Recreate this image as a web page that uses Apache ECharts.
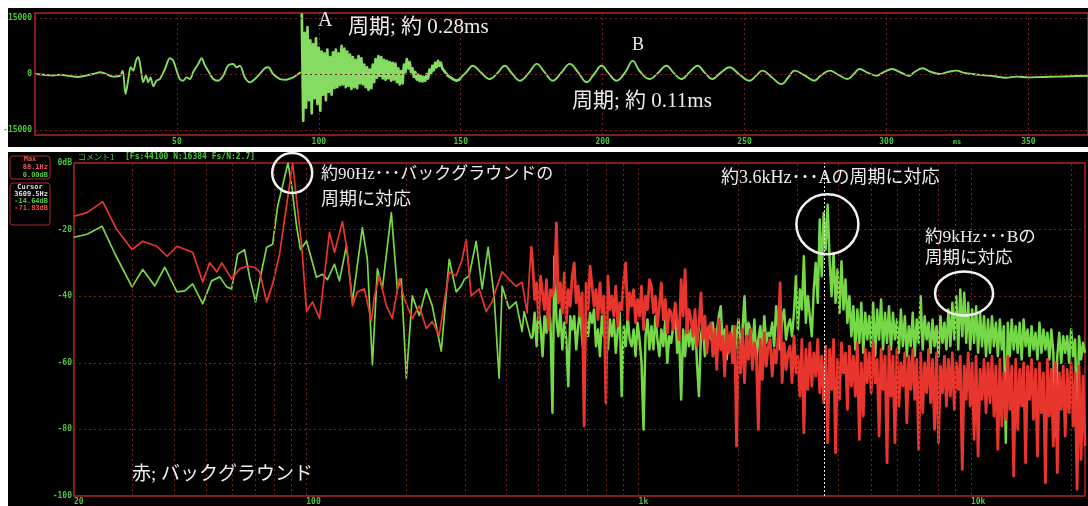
<!DOCTYPE html>
<html>
<head>
<meta charset="utf-8">
<script src="https://cdn.jsdelivr.net/npm/echarts@6/dist/echarts.min.js"></script>
<style>
  html, body { margin: 0; padding: 0; background: #ffffff; }
  #chart { width: 1088px; height: 506px; }
</style>
</head>
<body>
<div id="chart"></div>
<script>
// ---------- Waveform (top panel): amplitude vs time ----------
// slow pre-onset motion, [ms, amplitude]
const waveOnset = [
  [0,0],[3,-200],[6,-400],[9,-200],[12,-500],[15,-800],[18,-400],[21,100],[23,450],[25,0],
  [27.6,-700],[30,-450],[30.9,900],[31.9,-5360],[32.9,-1340],[33.7,1800],[34.6,890],[35.6,3570],
  [36.4,4460],[37.2,1800],[38.1,-2230],[39.1,-450],[39.9,-2230],[40.7,-890],[41.7,-3300],
  [42.8,-1790],[44,-1340],[45.8,1340],[47.5,4200],[48.7,3570],[49.9,890],[51,-1340],[52.2,-1790],
  [53.4,-890],[54.6,-1340],[55.7,450],[57.5,2680],[58.7,4200],[59.9,2230],[61,890],[62.8,-1340],
  [64.5,-1790],[66.3,-450],[68,2230],[69.8,2680],[71,1800],[72.2,2230],[73.9,-890],[75.7,-2230],
  [77.5,-1340],[79.2,0],[81,1520],[82.2,1800],[83.9,0],[86.3,-1340],[88.6,-1520],[91,-890],
  [92.7,0],[93.6,500]
];
// dense burst after the attack, sampled every 0.5 ms from 94 ms
const burstStartMs = 94;
const burstStepMs = 0.5;
const waveBurst = [
  16200,-12500,11000,-9000,12500,-7000,9000,-10500,8000,-6500,
  9500,-8000,7000,-9800,6000,-5500,5500,-7000,6500,-4800,
  4500,-5500,5800,-3800,6500,-3500,5500,-3000,7500,-2800,
  6800,-3500,6000,-3200,5200,-4000,4500,-3500,3800,-3800,
  4800,-2500,4200,-2800,2500,-3500,1800,-4200,1200,-3800,
  2500,-2200,4000,-1000,4800,-500,4500,-1200,3800,-1500,
  3500,-1200,3200,-1800,3000,-1500,2800,-2200,1500,-2800,
  800,-2500,2500,500,4000,1500,3200,500,1500,-800,
  500,-1500,-200,-1900,-500,-2000,-800,-1800,0,-1200,
  1200,0,2200,1000,3000,1800,3500,2200,3000,1500,
  2000,500,800,-500,0,-1000,-700,-1500,-1200,-1800,
  -1300,-1500,-1000
];
// decaying periodic tail, [ms, amplitude]
const waveTail = [
  [150,-1000],
  [152,500],[154.2,2200],[157,500],[160.2,-1340],[163,300],[165.5,2200],[168,200],[170.8,-1790],
  [174,300],[176.8,2700],[179.5,500],[182.4,-1790],[185.5,400],[188.4,2700],[191.5,300],[194.4,-2200],
  [197,0],[199.6,2200],[202,300],[204.9,-1790],[208,500],[210.6,3500],[213,800],[216.5,-1340],
  [219.5,300],[222.5,2200],[225,300],[227.8,-1340],[230.5,400],[233.5,2200],[236,300],[238.7,-1340],
  [241.5,300],[244.7,1800],[248,0],[251.8,-1790],[254,-500],[256.3,900],[259.5,-800],[263,-2700],
  [265.5,-800],[267.6,900],[271,-300],[274.6,-1790],[277,-300],[280,900],[283,-200],[286.3,-1340],
  [288.5,0],[290.5,1340],[293.5,300],[296.5,-450],[299,500],[302,1340],[305,400],[308,-450],
  [310,600],[312.7,1520],[315.5,600],[318.7,0],[321.5,500],[324.6,900],[327.5,300],[330.3,0],
  [334,-300],[338,-600],[342,-1000],[346,-700],[350,-900],[355,-800],[360,-700],[365,-600],[371,-450]
];
const waveTicksY = [15000, 0, -15000];
const waveTimeMax = 371;

// ---------- Spectrum (bottom panel): level in dB vs frequency ----------
// low band, [Hz, dB]
const greenLow = [
  [20,-22.3],[21.9,-21.4],[24.3,-19],[26.6,-27.4],[29.9,-37.2],[32.2,-32],[35.0,-36.9],[37.5,-31.3],
  [40.8,-38.7],[43.1,-38.4],[45.5,-36.3],[48.8,-42.3],[51.9,-35.4],[54.9,-34.2],[57.6,-37.2],
  [59.6,-37.8],[62.2,-27.4],[65.2,-26],[67.5,-34.2],[70.4,-41.7],[73.4,-32.4],[76.0,-25.3],
  [79.2,-24.4],[82.0,-13],[88.1,0],[90.3,-6.5],[93.5,-19],[96.1,-26],[100.2,-23.4],[107.3,-34.3],
  [111.9,-33.4],[115.8,-35],[121.6,-30.4],[125.8,-35.4],[132.1,-24.9],[137.7,-41.7],[147.5,-19.4],
  [152.7,-29],[158.1,-60.6],[163.7,-31.8],[169.4,-37.8],[180.3,-14.9],[187.9,-37.8],[193.2,-34.8],
  [200,-64.6],[208.5,-39.9],[218.8,-45.8],[229.7,-37.8],[239.4,-42.9],[254.8,-56.5],[269.3,-28.9],
  [282.6,-38.7],[292.5,-36.9],[298.7,-35],[309.2,-33.9],[324.5,-23.5],[338.3,-37.8],[352.6,-25.3],
  [367.5,-40],[380.5,-64.6],[388.5,-37],[407.8,-43.7],[428.0,-41.7],[446.1,-50.6],[452.3,-44.6],
  [474.8,-52.7]
];
const redLow = [
  [20,-16],[21.9,-14.9],[24.4,-11.6],[26.9,-20],[29.9,-26],[32.2,-23.5],[35.5,-25],[38.1,-28],
  [40.8,-25],[45.5,-26.8],[48.8,-35.7],[51.2,-30],[53.8,-32.7],[55.7,-30],[59.6,-34.8],[63.0,-31.8],
  [66.2,-31],[69.9,-31.3],[72.4,-32.7],[76.0,-41.7],[79.2,-36.3],[83.1,-27.4],[87.3,-12.5],[91.0,0],
  [94.2,-14],[96.8,-24.4],[100.2,-44.6],[104.4,-41.7],[109.6,-46.7],[117.4,-20.8],[121.6,-26.8],
  [128.5,-17.6],[133.0,-26.8],[137.7,-42.9],[142.5,-38.7],[149.6,-37.8],[157.0,-47.6],[160.3,-40],
  [165.9,-33.9],[174.2,-42.9],[181.5,-46.7],[190.6,-34.8],[197.3,-40.8],[208.5,-46.7],[218.8,-42.9],
  [229.7,-49.7],[239.4,-47.6],[251.3,-51.8],[260.1,-41.7],[269.3,-32.7],[282.6,-33.9],[294.6,-28.9],
  [302.8,-22.9],[313.5,-39.9],[331.3,-37.8],[347.8,-44.6],[362.5,-41.7],[372.7,-37.8],[388.5,-32.7],
  [407.8,-35],[428.0,-37],[446.1,-35.8],[461.8,-45],[474.8,-25]
];
// high band: dB values on a log-spaced frequency grid from 480 Hz to 22050 Hz
const highStartHz = 480;
const highEndHz = 22050;
const greenHigh = [
  -52,-45,-55,-44,-49,-58,-46,-51,-43,-48,
  -75,-28,-47,-52,-44,-56,-48,-53,-67,-46,
  -50,-46,-56,-49,-44,-53,-58,-47,-52,-45,
  -48,-44,-55,-50,-58,-46,-52,-49,-56,-47,
  -52,-47,-57,-50,-45,-70,-49,-55,-46,-53,
  -55,-50,-58,-48,-53,-60,-80,-52,-47,-56,
  -49,-56,-46,-53,-58,-50,-55,-47,-60,-52,
  -54,-49,-43,-57,-52,-71,-50,-58,-48,-55,
  -50,-56,-47,-60,-70,-52,-48,-58,-53,-49,
  -53,-48,-57,-51,-46,-43,-55,-50,-59,-52,
  -55,-49,-58,-52,-47,-56,-50,-40,-54,-48,
  -50,-56,-47,-59,-53,-49,-57,-46,-54,-51,
  -52,-48,-55,-43,-50,-56,-47,-44,-53,-49,
  -47,-52,-45,-34,-50,-38,-44,-28,-48,-40,
  -46,-52,-38,-30,-42,-17,-34,-15,-26,-12.5,
  -29,-40,-27,-42,-32,-45,-29.5,-44,-35,-48,
  -40,-52,-43,-56,-44,-54,-42,-57,-45,-53,
  -46,-55,-42,-58,-44,-53,-41,-56,-45,-54,
  -43,-56,-45,-53,-47,-57,-44,-55,-46,-58,
  -49,-55,-45,-58,-47,-54,-40,-56,-46,-53,
  -48,-57,-47,-55,-49,-58,-46,-54,-48,-56,
  -44,-55,-42,-53,-40,-56,-38,-52,-39,-54,
  -42,-56,-44,-54,-43,-57,-45,-55,-46,-58,
  -47,-57,-46,-55,-48,-58,-47,-56,-49,-84,
  -48,-58,-47,-56,-49,-57,-48,-59,-47,-55,
  -50,-58,-49,-56,-51,-59,-48,-57,-50,-56,
  -51,-59,-50,-57,-82,-58,-51,-60,-52,-57,
  -52,-60,-50,-58,-53,-80,-52,-59,-54,-57
];
const redHigh = [
  -30,-41,-36,-47,-34,-39,-44,-35,-50,-38,
  -40,-37,-18,-42,-36,-45,-33,-48,-38,-43,
  -34,-30,-42,-37,-46,-39,-79,-36,-44,-31,
  -31,-43,-38,-47,-36,-45,-40,-72,-34,-44,
  -40,-46,-37,-49,-42,-44,-35,-30,-47,-39,
  -43,-38,-48,-41,-46,-37,-50,-40,-44,-35,
  -37,-45,-40,-49,-43,-36,-47,-41,-51,-44,
  -45,-50,-42,-48,-53,-35,-46,-32,-51,-44,
  -47,-52,-44,-55,-49,-39,-53,-46,-57,-50,
  -48,-58,-50,-62,-47,-56,-52,-64,-49,-57,
  -51,-60,-49,-85,-53,-63,-50,-66,-52,-59,
  -50,-62,-54,-58,-80,-53,-65,-51,-61,-55,
  -53,-64,-56,-60,-52,-36,-66,-54,-62,-57,
  -55,-66,-52,-63,-58,-70,-53,-81,-56,-68,
  -54,-67,-57,-64,-53,-69,-58,-72,-55,-84,
  -56,-68,-53,-87,-59,-71,-54,-63,-57,-74,
  -55,-67,-58,-70,-54,-83,-60,-76,-56,-66,
  -57,-69,-54,-66,-59,-82,-56,-68,-58,-90,
  -55,-70,-58,-84,-56,-73,-60,-67,-57,-78,
  -58,-68,-56,-71,-59,-86,-57,-75,-60,-69,
  -56,-72,-59,-80,-57,-84,-61,-69,-58,-73,
  -59,-70,-57,-74,-60,-68,-58,-92,-61,-71,
  -57,-73,-60,-83,-58,-88,-62,-71,-59,-75,
  -60,-72,-58,-76,-61,-86,-59,-79,-63,-77,
  -58,-74,-61,-94,-59,-80,-62,-73,-60,-90,
  -61,-71,-59,-77,-62,-88,-60,-75,-63,-96,
  -59,-76,-62,-85,-60,-93,-63,-74,-61,-82,
  -62,-75,-60,-79,-63,-98,-61,-89,-64,-85
];
const freqLabels = { 20: '20', 100: '100', 1000: '1k', 10000: '10k' };
const minorGridHz = [30,40,50,60,70,80,90,200,300,400,500,600,700,800,900,
                     2000,3000,4000,5000,6000,7000,8000,9000,20000];
const cursorHz = 3609.5;

// ---------- styling ----------
const LABEL_GREEN = '#52c444';
const GRID_DOT = '#74201a';
const FRAME_RED = '#b02a20';
const WAVE_GREEN = '#86dc62';
const SPEC_GREEN = '#76d846';
const SPEC_RED = '#e8352e';
const NOTE_WHITE = '#ececec';
const LABEL_FONT = 'DejaVu Sans Mono';
const NOTE_FONT = "'Liberation Serif', 'Noto Sans CJK JP'";

// build series data
const burstData = waveBurst.map((v, i) => [burstStartMs + i * burstStepMs, v]);
function logGrid(values) {
  const n = values.length;
  return values.map((v, i) => [highStartHz * Math.pow(highEndHz / highStartHz, i / (n - 1)), v]);
}
// the high band starts from the last low-band point so the trace stays continuous
const greenHighData = [greenLow[greenLow.length - 1]].concat(logGrid(greenHigh));
const redHighData = [redLow[redLow.length - 1]].concat(logGrid(redHigh));

const chart = echarts.init(document.getElementById('chart'), null, { renderer: 'canvas' });

const smallLabel = { color: LABEL_GREEN, fontSize: 8, fontWeight: 'bold', fontFamily: LABEL_FONT };

function trace(name, xi, data, color, width, z, smooth) {
  return { name: name, type: 'line', xAxisIndex: xi, yAxisIndex: xi, data: data, sampling: 'none',
    smooth: smooth || false, showSymbol: false, symbol: 'none', z: z, silent: true,
    lineStyle: { color: color, width: width, join: 'round' } };
}

const option = {
  animation: false,
  backgroundColor: 'transparent',
  grid: [
    { left: 35, top: 13, width: 1053, height: 122, show: true, borderColor: FRAME_RED, borderWidth: 1.5, backgroundColor: 'transparent' },
    { left: 74, top: 163, width: 1014, height: 337, show: true, borderColor: FRAME_RED, borderWidth: 1.5, backgroundColor: 'transparent' }
  ],
  xAxis: [
    {
      type: 'value', gridIndex: 0, min: 0, max: waveTimeMax, interval: 50,
      axisLine: { show: false }, axisTick: { show: false },
      splitLine: { show: true, lineStyle: { color: GRID_DOT, type: [2, 3], width: 1 } },
      axisLabel: Object.assign({}, smallLabel, { margin: 3, showMaxLabel: false,
        formatter: v => (v === 0 || v > 360) ? '' : String(v) })
    },
    {
      type: 'log', logBase: 10, gridIndex: 1, min: 20, max: highEndHz,
      axisLine: { show: false }, axisTick: { show: false },
      splitLine: { show: true, lineStyle: { color: GRID_DOT, type: [2, 3], width: 1 } },
      axisLabel: Object.assign({}, smallLabel, { margin: 2, align: 'left',
        formatter: v => freqLabels[Math.round(v)] || '' })
    }
  ],
  yAxis: [
    {
      type: 'value', gridIndex: 0, min: -16300, max: 16300,
      axisLine: { show: false }, axisTick: { show: false },
      splitLine: { show: false }, axisLabel: { show: false }
    },
    {
      type: 'value', gridIndex: 1, min: -100, max: 0, interval: 20,
      axisLine: { show: false }, axisTick: { show: false },
      splitLine: { show: true, lineStyle: { color: GRID_DOT, type: [2, 3], width: 1 } },
      axisLabel: Object.assign({}, smallLabel, { margin: 2, formatter: v => v === 0 ? '0dB' : String(v) })
    }
  ],
  series: [
    // amplitude grid lines of the waveform
    {
      type: 'line', xAxisIndex: 0, yAxisIndex: 0, data: [], z: 1, silent: true,
      markLine: { silent: true, symbol: ['none', 'none'], label: { show: false },
        lineStyle: { color: GRID_DOT, type: [2, 3], width: 1 },
        data: waveTicksY.map(v => ({ yAxis: v })) }
    },
    // 1-2-...-9 frequency grid lines of the spectrum
    {
      type: 'line', xAxisIndex: 1, yAxisIndex: 1, data: [], z: 1, silent: true,
      markLine: { silent: true, symbol: ['none', 'none'], label: { show: false },
        lineStyle: { color: GRID_DOT, type: [2, 3], width: 1 },
        data: minorGridHz.map(f => ({ xAxis: f })) }
    },
    trace('waveOnset', 0, waveOnset, WAVE_GREEN, 1.9, 2, 0.3),
    trace('waveBurst', 0, burstData, WAVE_GREEN, 2.7, 2),
    trace('waveTail', 0, waveTail, WAVE_GREEN, 1.9, 2, 0.4),
    trace('signalLow', 1, greenLow, SPEC_GREEN, 1.7, 2),
    trace('signalHigh', 1, greenHighData, SPEC_GREEN, 2.5, 2),
    trace('backgroundLow', 1, redLow, SPEC_RED, 1.7, 3),
    trace('backgroundHigh', 1, redHighData, SPEC_RED, 2.8, 3),
    // cursor
    {
      type: 'line', xAxisIndex: 1, yAxisIndex: 1, data: [], z: 5, silent: true,
      markLine: { silent: true, symbol: ['none', 'none'], label: { show: false },
        lineStyle: { color: '#e6e6e6', type: [2, 2], width: 1 },
        data: [{ xAxis: cursorHz }] }
    }
  ]
};
chart.setOption(option);

// ---------- panels, readouts and notes ----------
const toWave = (t, v) => chart.convertToPixel({ xAxisIndex: 0, yAxisIndex: 0 }, [t, v]);
const toSpec = (f, db) => chart.convertToPixel({ xAxisIndex: 1, yAxisIndex: 1 }, [f, db]);

function txt(x, y, text, opts) {
  return Object.assign({ type: 'text', x: x, y: y, z: 100, silent: true,
    style: Object.assign({ text: text, fill: NOTE_WHITE, fontSize: 17, fontFamily: NOTE_FONT,
      align: 'left', verticalAlign: 'middle' }, opts || {}) });
}
function small(x, y, text, color, align) {
  return txt(x, y, text, { fill: color, fontSize: 7, fontWeight: 'bold', fontFamily: LABEL_FONT, align: align || 'right' });
}

const elements = [
  { type: 'rect', z: -10, silent: true, shape: { x: 8, y: 8, width: 1080, height: 139 }, style: { fill: '#000' } },
  { type: 'rect', z: -10, silent: true, shape: { x: 8, y: 152, width: 1080, height: 354 }, style: { fill: '#000' } }
];

// waveform amplitude labels
waveTicksY.forEach(v => {
  const p = toWave(0, v);
  elements.push(txt(p[0] - 3, p[1], String(v), { fill: LABEL_GREEN, fontSize: 8, fontWeight: 'bold', fontFamily: LABEL_FONT, align: 'right' }));
});
elements.push(txt(957, 142, 'ms', { fill: LABEL_GREEN, fontSize: 7, fontWeight: 'bold', fontFamily: LABEL_FONT, align: 'center' }));

// spectrum header
elements.push(txt(78, 157, 'コメント1', { fill: LABEL_GREEN, fontSize: 8, fontFamily: "'Noto Sans CJK JP'" }));
elements.push(txt(125, 157, '[Fs:44100 N:16384 Fs/N:2.7]', { fill: LABEL_GREEN, fontSize: 8, fontWeight: 'bold', fontFamily: LABEL_FONT }));

// readout boxes
elements.push({ type: 'rect', z: 99, silent: true, shape: { x: 10, y: 156, width: 40, height: 23, r: 3 },
  style: { fill: 'none', stroke: FRAME_RED, lineWidth: 1 } });
elements.push(small(30, 159, 'Max', '#e85050', 'center'));
elements.push(small(48, 167, '88.1Hz', '#e85a5a'));
elements.push(small(48, 175, '0.00dB', LABEL_GREEN));
elements.push({ type: 'rect', z: 99, silent: true, shape: { x: 10, y: 183, width: 40, height: 42, r: 3 },
  style: { fill: 'none', stroke: FRAME_RED, lineWidth: 1 } });
elements.push(small(30, 187, 'Cursor', '#e0e0e0', 'center'));
elements.push(small(48, 194, cursorHz.toFixed(1) + 'Hz', '#e0e0e0'));
elements.push(small(48, 201, '-14.64dB', LABEL_GREEN));
elements.push(small(48, 208, '-71.83dB', '#e84a4a'));

// notes on the waveform
elements.push(txt(318, 21, 'A', { fontSize: 20 }));
elements.push(txt(348, 27, '周期; 約 0.28ms', { fontSize: 21 }));
elements.push(txt(632, 45, 'B', { fontSize: 18 }));
elements.push(txt(572, 101, '周期; 約 0.11ms', { fontSize: 21 }));

// notes on the spectrum
elements.push(txt(321, 175, '約90Hz･･･バックグラウンドの'));
elements.push(txt(321, 200, '周期に対応', { fontSize: 18 }));
elements.push(txt(721, 178, '約3.6kHz･･･Aの周期に対応', { fontSize: 18 }));
elements.push(txt(925, 237, '約9kHz･･･Bの', { fontSize: 17.5 }));
elements.push(txt(925, 258, '周期に対応', { fontSize: 17.5 }));
elements.push(txt(132, 475, '赤; バックグラウンド', { fontSize: 19 }));

// rings around the peaks
const rings = [
  { hz: 90.7, db: -3, rx: 20, ry: 20 },
  { hz: 3700, db: -18.4, rx: 31, ry: 30 },
  { hz: 9540, db: -39.2, rx: 29, ry: 22 }
];
rings.forEach(r => {
  const c = toSpec(r.hz, r.db);
  elements.push({ type: 'ellipse', z: 100, silent: true, shape: { cx: c[0], cy: c[1], rx: r.rx, ry: r.ry },
    style: { fill: 'none', stroke: '#f2f2f2', lineWidth: 2.5 } });
});

chart.setOption({ graphic: { elements: elements } });
</script>
</body>
</html>
